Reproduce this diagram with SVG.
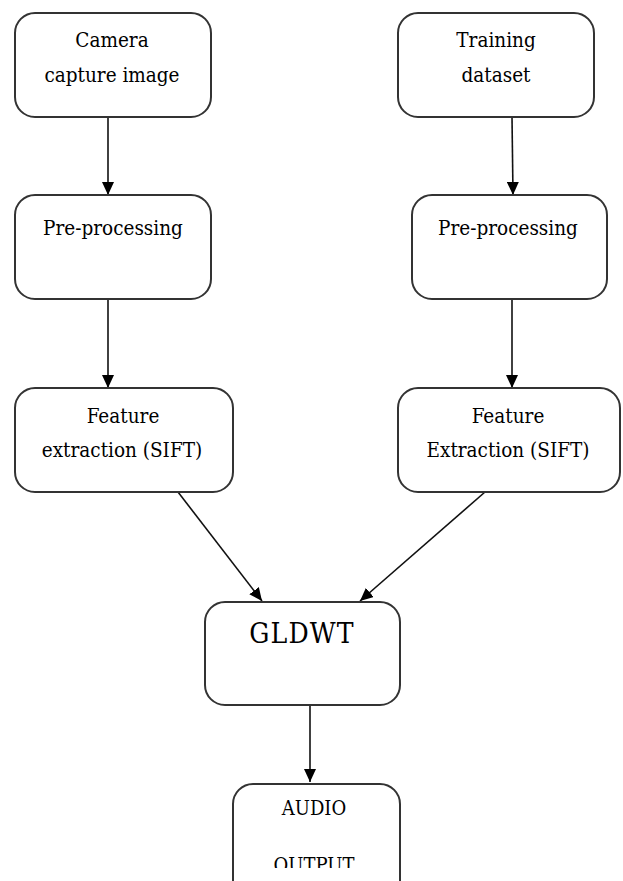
<svg xmlns="http://www.w3.org/2000/svg" width="623" height="881" viewBox="0 0 623 881">
<style>
.box{fill:#fff;stroke:#333;stroke-width:2}
.t{font-family:"DejaVu Serif Condensed","DejaVu Serif",serif;font-stretch:condensed;font-size:20.5px;fill:#000;text-anchor:middle}
.big{font-size:28px;letter-spacing:1.2px}
.mid{font-size:20px}
.c{stroke:#111;stroke-width:1.6;fill:none;marker-end:url(#ah)}
</style>
<defs>
<marker id="ah" markerUnits="userSpaceOnUse" markerWidth="13" markerHeight="12" refX="13" refY="6" orient="auto">
<path d="M0,0 L13,6 L0,12 z" fill="#000"/>
</marker>
<clipPath id="clipOut"><rect x="233" y="784" width="170" height="84"/></clipPath>
</defs>
<rect width="623" height="881" fill="#fff"/>
<g id="connectors">
<line class="c" x1="108" y1="117" x2="108" y2="195"/>
<line class="c" x1="512" y1="117" x2="513" y2="195"/>
<line class="c" x1="108" y1="299" x2="108" y2="388"/>
<line class="c" x1="512" y1="299" x2="512" y2="388"/>
<line class="c" x1="178" y1="492" x2="262" y2="601"/>
<line class="c" x1="485" y1="492" x2="360" y2="601"/>
<line class="c" x1="310" y1="705" x2="310" y2="782"/>
</g>
<g id="camera">
<rect class="box" x="15" y="13" width="196" height="104" rx="20"/>
<text class="t" x="112" y="47">Camera</text>
<text class="t" x="112" y="82">capture image</text>
</g>
<g id="training">
<rect class="box" x="398" y="13" width="196" height="104" rx="20"/>
<text class="t" x="496" y="47">Training</text>
<text class="t" x="496" y="82">dataset</text>
</g>
<g id="prep1">
<rect class="box" x="15" y="195" width="196" height="104" rx="20"/>
<text class="t" x="113" y="235">Pre-processing</text>
</g>
<g id="prep2">
<rect class="box" x="412" y="195" width="195" height="104" rx="20"/>
<text class="t" x="508" y="235">Pre-processing</text>
</g>
<g id="feat1">
<rect class="box" x="15" y="388" width="218" height="104" rx="20"/>
<text class="t" x="123" y="423">Feature</text>
<text class="t" x="122" y="457">extraction (SIFT)</text>
</g>
<g id="feat2">
<rect class="box" x="398" y="388" width="222" height="104" rx="20"/>
<text class="t" x="508" y="423">Feature</text>
<text class="t" x="508" y="457">Extraction (SIFT)</text>
</g>
<g id="gldwt">
<rect class="box" x="205" y="602" width="195" height="103" rx="20"/>
<text class="t big" x="302" y="643">GLDWT</text>
</g>
<g id="audio">
<rect class="box" x="233" y="784" width="167" height="130" rx="20"/>
<text class="t mid" x="314" y="815">AUDIO</text>
<text class="t mid" x="314" y="872" clip-path="url(#clipOut)">OUTPUT</text>
</g>
</svg>
